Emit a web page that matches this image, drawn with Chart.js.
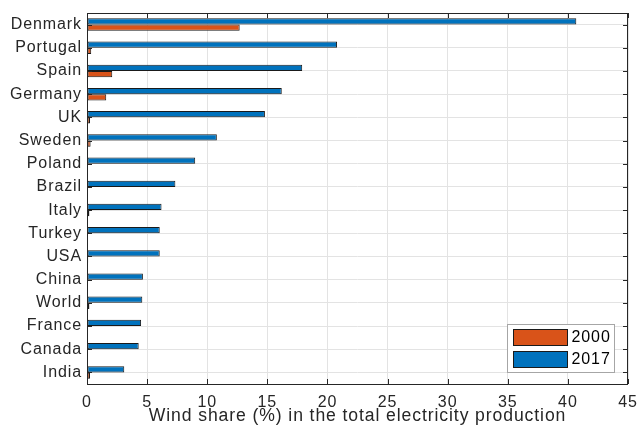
<!DOCTYPE html>
<html>
<head>
<meta charset="utf-8">
<script src="https://cdn.jsdelivr.net/npm/chart.js@4/dist/chart.umd.min.js"></script>
<style>
  html, body { margin: 0; padding: 0; background: #ffffff; }
  #wrap { width: 641px; height: 435px; }
</style>
</head>
<body>
<div id="wrap"><canvas id="windChart" width="641" height="435"></canvas></div>
<script>
const countries = ["Denmark", "Portugal", "Spain", "Germany", "UK", "Sweden", "Poland", "Brazil",
  "Italy", "Turkey", "USA", "China", "World", "France", "Canada", "India"];
const share2017 = [40.7, 20.8, 17.9, 16.2, 14.8, 10.8, 9.0, 7.35, 6.2, 6.05, 6.05, 4.65, 4.6, 4.5, 4.3, 3.1];
const share2000 = [12.7, 0.35, 2.1, 1.6, 0.25, 0.3, 0.02, 0.02, 0.2, 0.02, 0.1, 0.02, 0.2, 0.02, 0.05, 0.25];
const xTicks = [0, 5, 10, 15, 20, 25, 30, 35, 40, 45];

const axisColor = "#262626";
const gridColor = "#e3e3e3";
const fontFamily = "'Liberation Sans', Arial, Helvetica, sans-serif";

// the reference text is a bit wider than plain Arial
const wideText = {
  id: "wideText",
  beforeDraw(chart) {
    chart.ctx.letterSpacing = "0.9px";
  }
};

// MATLAB style box with inward ticks, plus legend in the lower right corner
const matlabBox = {
  id: "matlabBox",
  afterDraw(chart) {
    const ctx = chart.ctx;
    const area = chart.chartArea;
    const xs = chart.scales.x;
    const ys = chart.scales.y;
    ctx.save();
    ctx.strokeStyle = axisColor;
    ctx.lineWidth = 1;
    ctx.beginPath();
    xs.ticks.forEach((t, i) => {
      const px = Math.round(xs.getPixelForTick(i)) + 0.5;
      ctx.moveTo(px, area.bottom); ctx.lineTo(px, area.bottom - 5);
      ctx.moveTo(px, area.top); ctx.lineTo(px, area.top + 5);
    });
    ys.ticks.forEach((t, i) => {
      const py = Math.round(ys.getPixelForTick(i)) + 0.5;
      ctx.moveTo(area.left, py); ctx.lineTo(area.left + 5, py);
      ctx.moveTo(area.right, py); ctx.lineTo(area.right - 5, py);
    });
    ctx.stroke();
    ctx.strokeRect(Math.round(area.left) + 0.5, Math.round(area.top) + 0.5,
      Math.round(area.right - area.left) - 1, Math.round(area.bottom - area.top));

    // legend
    const items = [chart.data.datasets[1], chart.data.datasets[0]];
    const bw = 107, bh = 48;
    const bx = Math.round(area.right - 14 - bw) + 0.5;
    const by = Math.round(area.bottom - 12 - bh) + 0.5;
    ctx.fillStyle = "#ffffff";
    ctx.fillRect(bx, by, bw, bh);
    ctx.strokeStyle = "#a6a6a6";
    ctx.strokeRect(bx, by, bw, bh);
    ctx.font = "16px " + fontFamily;
    ctx.letterSpacing = "0.9px";
    ctx.textBaseline = "middle";
    items.forEach((ds, i) => {
      const py = by + 5 + i * 22;
      ctx.fillStyle = ds.backgroundColor;
      ctx.fillRect(bx + 6, py, 54, 16);
      ctx.strokeStyle = "#1a1a1a";
      ctx.strokeRect(bx + 6, py, 54, 16);
      ctx.fillStyle = "#000000";
      ctx.fillText(ds.label, bx + 64, py + 8.5);
    });
    ctx.restore();
  }
};

new Chart(document.getElementById("windChart"), {
  type: "bar",
  data: {
    labels: countries,
    datasets: [
      {
        label: "2017",
        data: share2017,
        backgroundColor: "#0072BD",
        borderColor: "#1a1a1a",
        borderWidth: 1,
        borderSkipped: false,
        categoryPercentage: 0.54,
        barPercentage: 1.0,
      },
      {
        label: "2000",
        data: share2000,
        backgroundColor: "#D95319",
        borderColor: "#1a1a1a",
        borderWidth: 1,
        borderSkipped: false,
        categoryPercentage: 0.54,
        barPercentage: 1.0,
      },
    ],
  },
  options: {
    indexAxis: "y",
    responsive: false,
    animation: false,
    layout: { padding: { top: 13, right: 13, left: 0, bottom: 0 } },
    scales: {
      x: {
        min: 0,
        max: 45,
        afterBuildTicks: (s) => { s.ticks = xTicks.map((v) => ({ value: v })); },
        afterFit: (s) => { s.height = 51; s.paddingLeft = 0; s.paddingRight = 0; },
        ticks: { color: axisColor, font: { family: fontFamily, size: 16 }, padding: 9, maxRotation: 0 },
        grid: { color: gridColor, drawTicks: false },
        border: { display: false },
        title: {
          display: true,
          text: "Wind share (%) in the total electricity production",
          color: axisColor,
          font: { family: fontFamily, size: 17.6 },
          padding: { top: 0, bottom: 8 },
        },
      },
      y: {
        afterFit: (s) => { s.width = 87; s.paddingTop = 0; s.paddingBottom = 0; },
        ticks: { color: axisColor, font: { family: fontFamily, size: 16 }, padding: 5, autoSkip: false },
        grid: { color: gridColor, drawTicks: false, offset: false },
        border: { display: false },
      },
    },
    plugins: {
      legend: { display: false },
      tooltip: { enabled: false },
    },
  },
  plugins: [wideText, matlabBox],
});
</script>
</body>
</html>
